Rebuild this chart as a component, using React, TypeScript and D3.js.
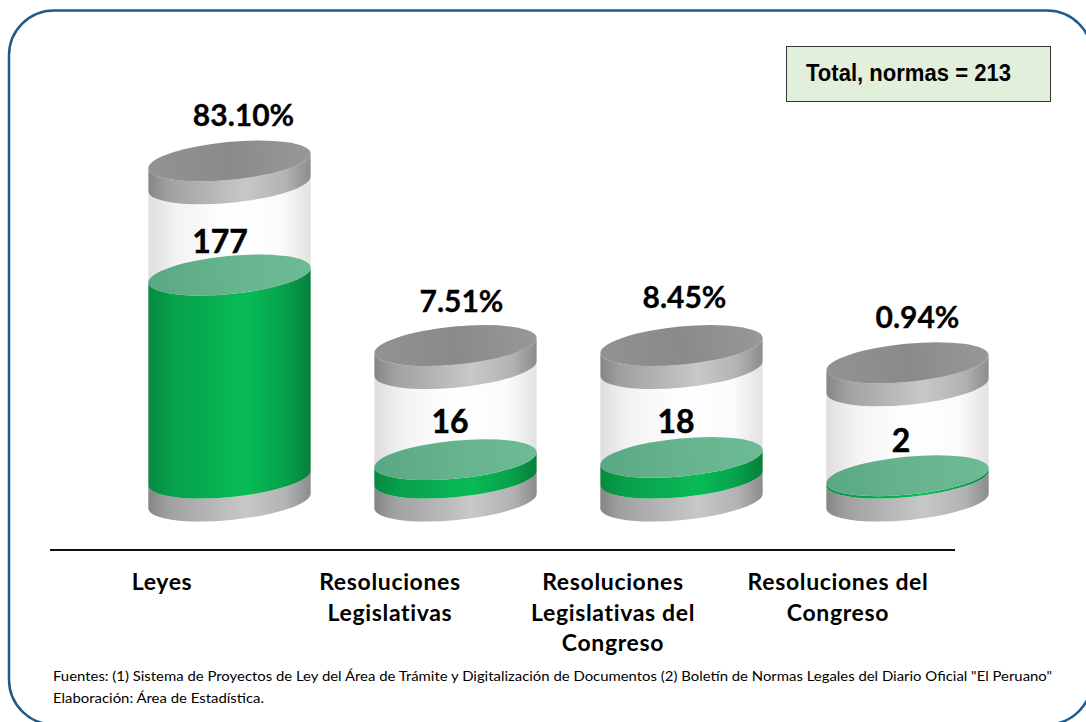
import React from "react";
import * as d3 from "d3";

const categories: string[][] = [
  ["Leyes"],
  ["Resoluciones", "Legislativas"],
  ["Resoluciones", "Legislativas del", "Congreso"],
  ["Resoluciones del", "Congreso"],
];
const counts = [177, 16, 18, 2];
const shares = ["83.10%", "7.51%", "8.45%", "0.94%"];
const tubeCapacity = [276.5, 115.5, 115.5, 100.5];
const totalLabel = "Total, normas = 213";
const footnotes = [
  'Fuentes: (1) Sistema de Proyectos de Ley del Área de Trámite y Digitalización de Documentos (2) Boletín de Normas Legales del Diario Oficial "El Peruano"',
  "Elaboración: Área de Estadística.",
];

const W = 1086;
const H = 722;
const RX = 81.5;
const RY = 19;
const TILT = -5.5;
const RIM = 23;
const rad = (TILT * Math.PI) / 180;
const EX = RX * Math.cos(rad);
const EY = RX * Math.sin(rad);

const x = d3.scalePoint<number>().domain([0, 1, 2, 3]).range([229.5, 907.5]);
const y = d3.scaleLinear().domain([0, 177]).range([478, 275]);

const FONT = "Lato, Carlito, sans-serif";

// Band between two tilted ellipses: the visible side of a disc.
function side(cx: number, yTop: number, yBottom: number): string {
  const arc = `A${RX},${RY} ${TILT} 0 0 ${cx + EX},${yBottom + EY}`;
  return `M${cx - EX},${yTop - EY}L${cx - EX},${yBottom - EY}${arc}L${cx + EX},${yTop + EY}A${RX},${RY} ${TILT} 0 1 ${cx - EX},${yTop - EY}Z`;
}

function Cap({ cx, cy, fill }: { cx: number; cy: number; fill: string }) {
  return (
    <ellipse
      cx={cx}
      cy={cy}
      rx={RX}
      ry={RY}
      fill={fill}
      transform={`rotate(${TILT} ${cx} ${cy})`}
    />
  );
}

function Grad({ id, stops }: { id: string; stops: [number, string][] }) {
  return (
    <linearGradient id={id} x1="0" x2="1" y1="0" y2="0">
      {stops.map(([o, c]) => (
        <stop key={o} offset={o} stopColor={c} />
      ))}
    </linearGradient>
  );
}

export default function App() {
  return (
    <svg
      width={W}
      height={H}
      viewBox={`0 0 ${W} ${H}`}
      style={{ position: "absolute", left: 0, top: 0, background: "#fff" }}
    >
      <defs>
        <Grad id="rim" stops={[[0, "#858585"], [0.12, "#a0a0a0"], [0.6, "#c8c8c8"], [0.85, "#b2b2b2"], [1, "#8c8c8c"]]} />
        <Grad id="glass" stops={[[0, "#dedede"], [0.18, "#f3f3f3"], [0.5, "#ffffff"], [0.82, "#fbfbfb"], [1, "#e2e2e2"]]} />
        <Grad id="green" stops={[[0, "#068a40"], [0.15, "#07a04b"], [0.6, "#08bb56"], [0.85, "#07a04b"], [1, "#057f3a"]]} />
        <Grad id="greenTop" stops={[[0, "#5aa883"], [0.5, "#66b48d"], [1, "#6cbb94"]]} />
        <Grad id="cap" stops={[[0, "#929292"], [0.5, "#8a8a8a"], [1, "#989898"]]} />
      </defs>

      <rect x={9} y={10.5} width={1083} height={714} rx={45} ry={45} fill="#fff" stroke="#1f5a8a" strokeWidth={2.5} />

      <rect x={786.5} y={46.5} width={264} height={55} fill="#e2efda" stroke="#333" strokeWidth={1} />
      <text x={806} y={81} fontFamily="Liberation Sans, Arial, sans-serif" fontWeight={700} fontSize={24} textLength={205} lengthAdjust="spacingAndGlyphs" fill="#000">
        {totalLabel}
      </text>

      {counts.map((v, i) => {
        const cx = x(i)!;
        const base = y(0);
        const level = y(v);
        const top = y(tubeCapacity[i]);
        const shareDx = [14, 6, 3, 10][i];
        const shareDy = [-35, -34, -38, -35][i];
        const countDx = [-9.5, -5.5, -5.5, -6.5][i];
        const countDy = [-22, -27, -24, -24][i];
        return (
          <g key={i}>
            <path d={side(cx, top + RIM, base + RIM)} fill="url(#glass)" />
            <path d={side(cx, base, base + RIM)} fill="url(#rim)" />
            <path d={side(cx, level, base)} fill="url(#green)" />
            <Cap cx={cx} cy={level} fill="url(#greenTop)" />
            <path d={side(cx, top, top + RIM)} fill="url(#rim)" />
            <Cap cx={cx} cy={top} fill="url(#cap)" />
            <text x={cx + countDx} y={level + countDy} textAnchor="middle" fontFamily={FONT} fontWeight={700} fontSize={32} stroke="#000" strokeWidth={0.5} fill="#000">
              {v}
            </text>
            <text x={cx + shareDx} y={top + shareDy} textAnchor="middle" fontFamily={FONT} fontWeight={700} fontSize={30} stroke="#000" strokeWidth={0.3} fill="#000">
              {shares[i]}
            </text>
          </g>
        );
      })}

      <line x1={50} x2={955} y1={550} y2={550} stroke="#111" strokeWidth={2} />

      {categories.map((lines, i) => (
        <text key={i} textAnchor="middle" fontFamily={FONT} fontWeight={700} fontSize={23} letterSpacing={0.65} fill="#000">
          {lines.map((l, j) => (
            <tspan key={j} x={x(i)! + [-67.5, -65.5, -68.5, -69.5][i]} y={590 + j * 30.5}>
              {l}
            </tspan>
          ))}
        </text>
      ))}

      <text x={53} y={681} fontFamily={FONT} fontSize={13} textLength={999} lengthAdjust="spacingAndGlyphs" fill="#000">
        {footnotes[0]}
      </text>
      <text x={53} y={703} fontFamily={FONT} fontSize={13} textLength={211} lengthAdjust="spacingAndGlyphs" fill="#000">
        {footnotes[1]}
      </text>
    </svg>
  );
}
